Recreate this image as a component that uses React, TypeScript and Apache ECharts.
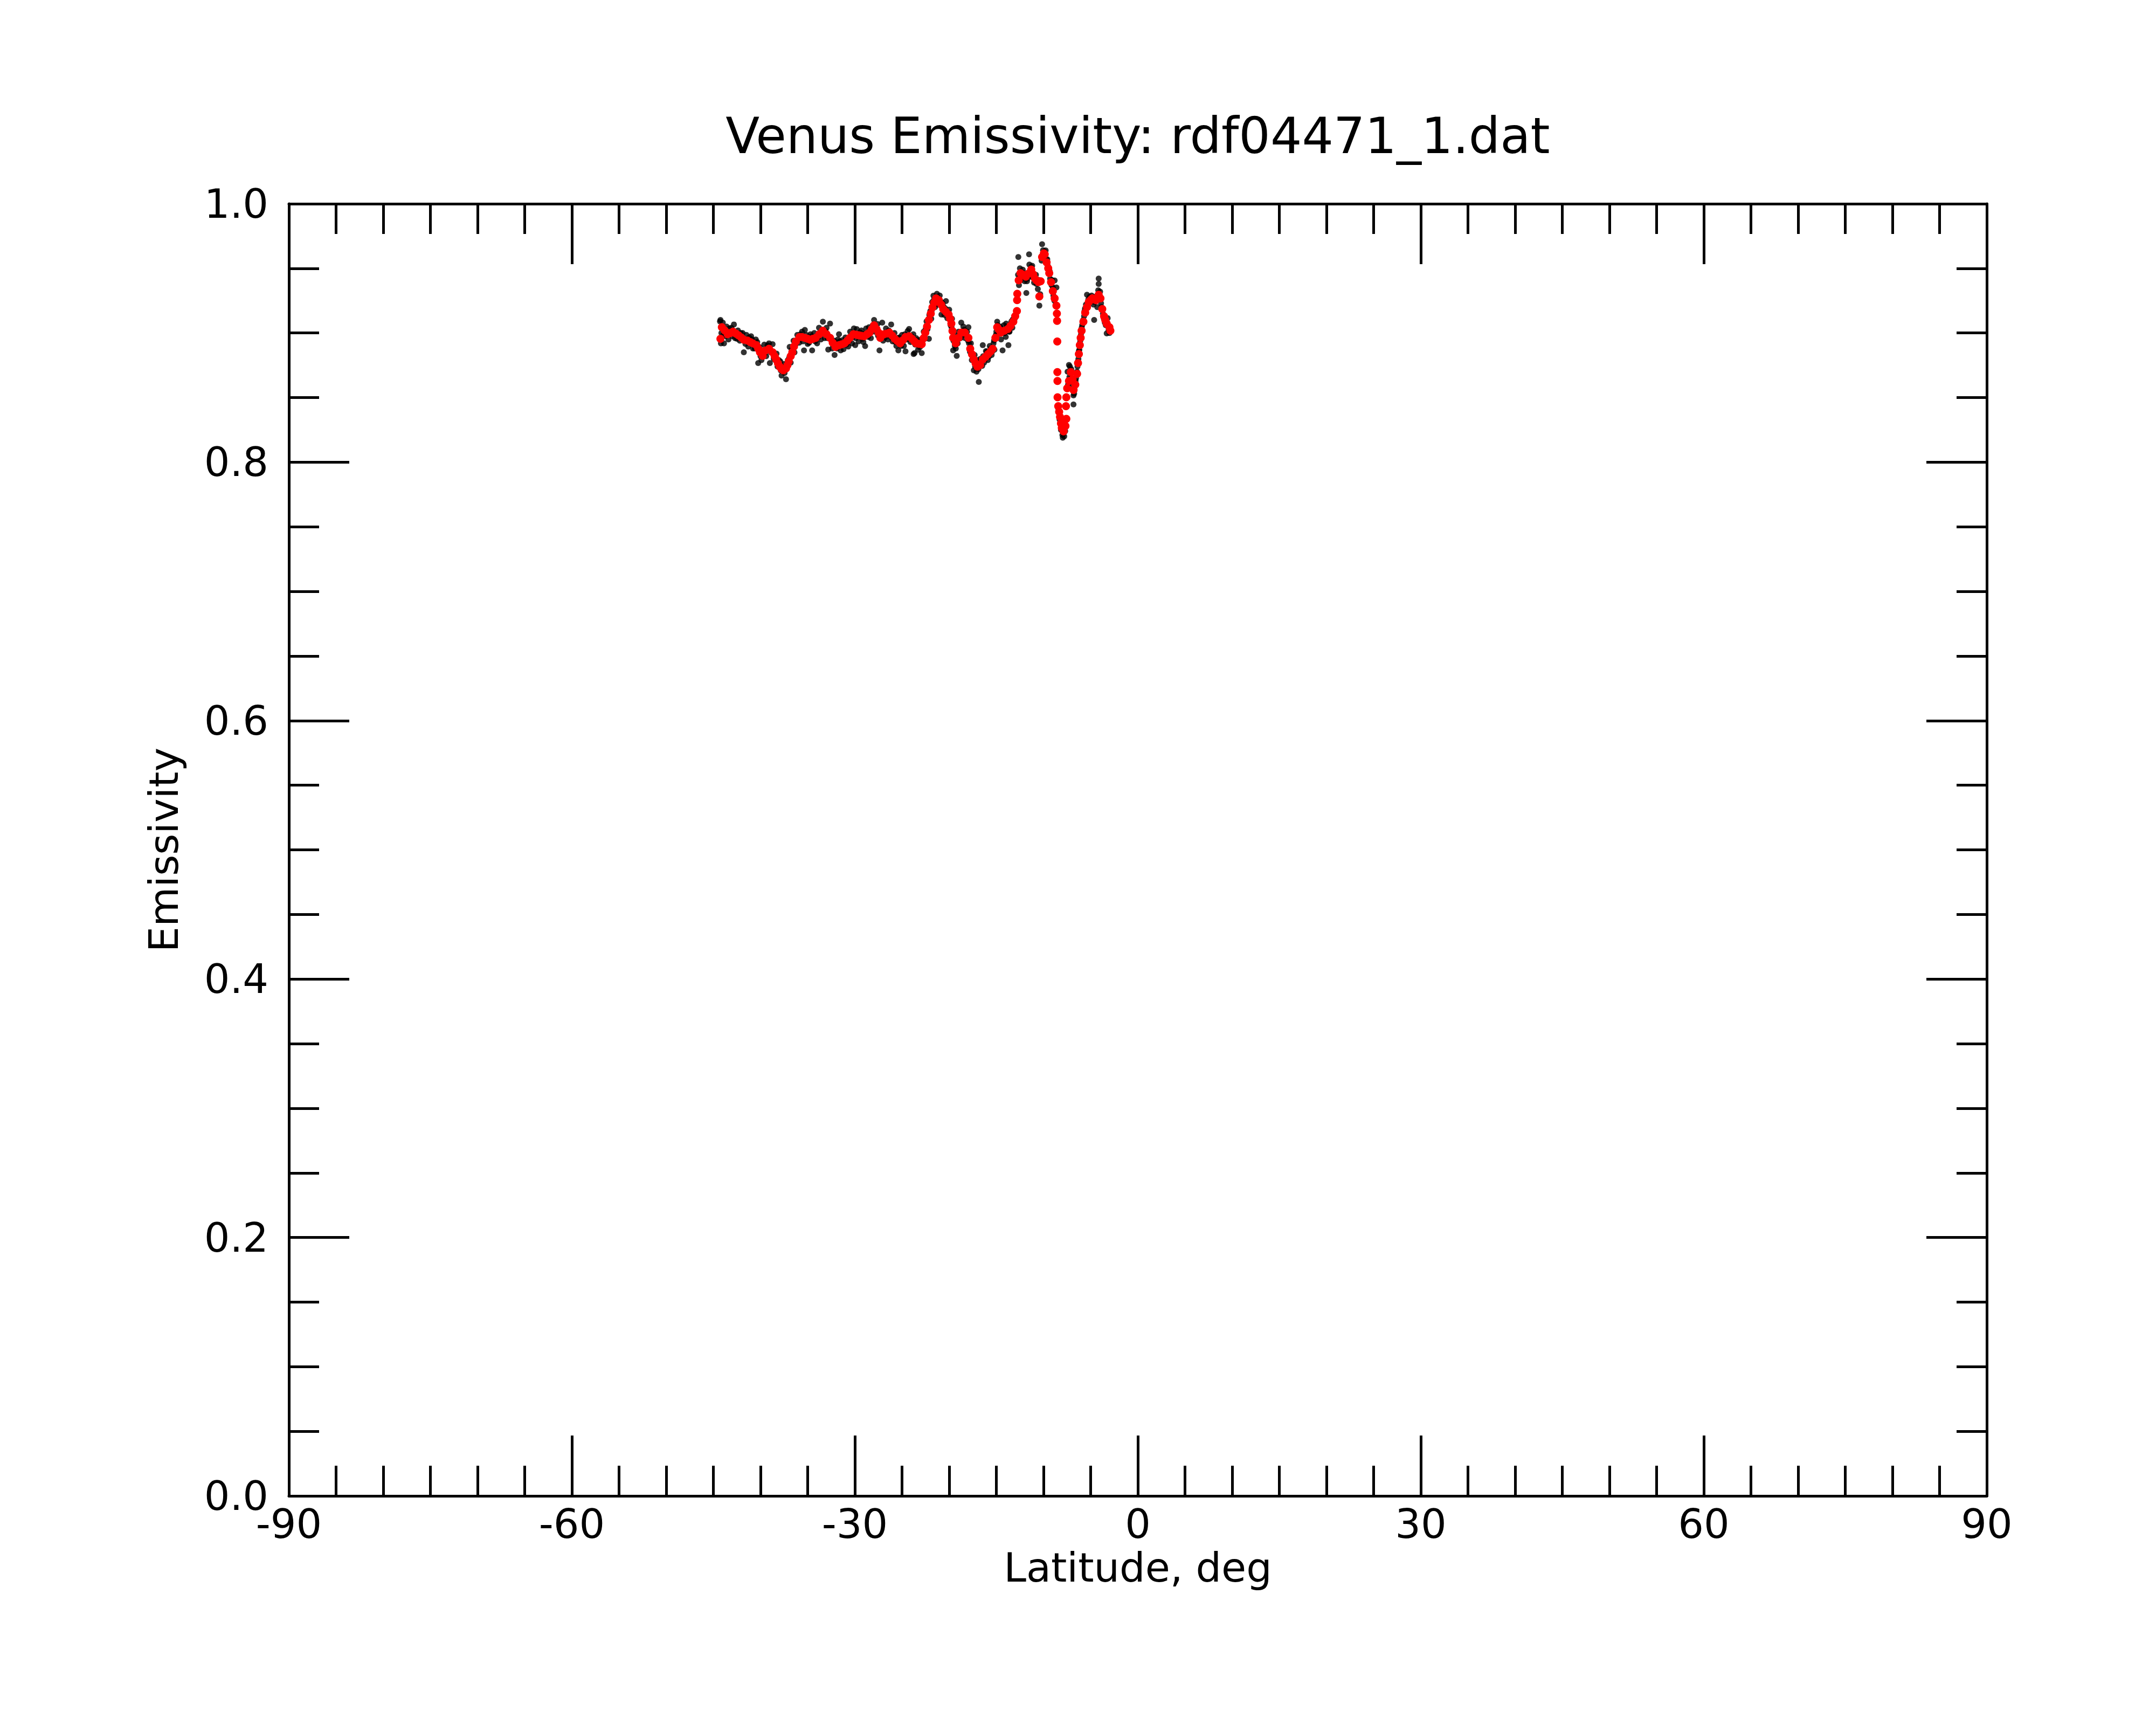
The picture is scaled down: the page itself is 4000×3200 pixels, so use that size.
import React, { useEffect, useRef } from "react";
import * as echarts from "echarts";

const TITLE = "Venus Emissivity: rdf04471_1.dat";
const X_NAME = "Latitude, deg";
const Y_NAME = "Emissivity";

// Smoothed emissivity (red)
const RED_LAT = [
  -44.25, -44.1, -43.8, -43.49, -43.2, -42.91, -42.6, -42.34, -42.05, -41.77,
  -41.39, -41.1, -40.82, -40.44, -40.25, -40.06, -39.77, -39.49, -39.1, -38.72,
  -38.5, -38.34, -38.15, -37.96, -37.78, -37.58, -37.3, -37.15, -37.01, -36.8,
  -36.63, -36.45, -36.25, -35.87, -35.6, -35.3, -35.0, -34.73, -34.45, -34.15,
  -33.77, -33.39, -33.01, -32.63, -32.35, -32.06, -31.68, -31.4, -31.1, -30.8,
  -30.53, -30.15, -29.85, -29.58, -29.3, -29.01, -28.7, -28.44, -28.2, -27.96,
  -27.7, -27.49, -27.3, -26.91, -26.6, -26.34, -26.05, -25.77, -25.5, -25.2,
  -24.9, -24.63, -24.25, -23.95, -23.67, -23.49, -23.2, -22.91, -22.7, -22.53,
  -22.35, -22.15, -21.95, -21.77, -21.58, -21.39, -21.1, -20.85, -20.63, -20.35,
  -20.06, -19.9, -19.77, -19.65, -19.58, -19.3, -19.01, -18.72, -18.34, -17.96,
  -17.77, -17.58, -17.39, -17.2, -17.01, -16.72, -16.44, -16.15, -15.87, -15.6,
  -15.39, -15.1, -14.91, -14.72, -14.53, -14.15, -13.77, -13.5, -13.2, -13.0,
  -12.82, -12.8, -12.78, -12.63, -12.44, -12.15, -11.87, -11.6, -11.3, -11.1,
  -10.91, -10.72, -10.53, -10.44, -10.3, -10.15, -9.96, -9.87, -9.67, -9.5,
  -9.39, -9.2, -9.01, -8.82, -8.63, -8.58, -8.56, -8.54, -8.53, -8.52,
  -8.51, -8.44, -8.34, -8.25, -8.15, -8.06, -7.87, -7.67, -7.58, -7.62,
  -7.58, -7.49, -7.3, -7.1, -6.91, -6.82, -6.63, -6.44, -6.34, -6.25,
  -6.15, -6.06, -5.96, -5.77, -5.58, -5.39, -5.2, -5.0, -4.82, -4.63,
  -4.44, -4.15, -3.96, -3.77, -3.58, -3.45, -3.3, -3.01, -2.91,
];
const RED_E = [
  0.8955, 0.9045, 0.902, 0.899, 0.9, 0.901, 0.8995, 0.8982, 0.8965, 0.8948,
  0.8941, 0.893, 0.892, 0.8906, 0.888, 0.8851, 0.8823, 0.8864, 0.8878, 0.8851,
  0.882, 0.8795, 0.8765, 0.8739, 0.8722, 0.8711, 0.8725, 0.875, 0.8781, 0.882,
  0.8851, 0.8895, 0.8934, 0.8969, 0.8968, 0.8962, 0.8955, 0.8948, 0.8955, 0.8962,
  0.899, 0.9018, 0.899, 0.8962, 0.8925, 0.8892, 0.8906, 0.8912, 0.892, 0.894,
  0.8962, 0.899, 0.8986, 0.8982, 0.8978, 0.8975, 0.899, 0.9003, 0.903, 0.9059,
  0.903, 0.9003, 0.8962, 0.899, 0.8996, 0.9003, 0.898, 0.8955, 0.8938, 0.892,
  0.8945, 0.8969, 0.8975, 0.8955, 0.8934, 0.892, 0.8916, 0.8913, 0.896, 0.9003,
  0.905, 0.9101, 0.915, 0.9198, 0.9235, 0.9268, 0.9254, 0.922, 0.9185, 0.9165,
  0.9143, 0.911, 0.9073, 0.9015, 0.8962, 0.892, 0.8962, 0.9003, 0.9003, 0.8962,
  0.8878, 0.8835, 0.8795, 0.8765, 0.8739, 0.8753, 0.8795, 0.8815, 0.8837, 0.8858,
  0.8878, 0.8962, 0.9045, 0.9025, 0.9003, 0.9018, 0.9031, 0.9055, 0.9087, 0.913,
  0.917, 0.9254, 0.9303, 0.9408, 0.9463, 0.945, 0.9436, 0.946, 0.9491, 0.9455,
  0.9421, 0.9405, 0.9394, 0.9282, 0.94, 0.9588, 0.9616, 0.9609, 0.9546, 0.95,
  0.9463, 0.9393, 0.9324, 0.9268, 0.9212, 0.915, 0.9094, 0.8934, 0.8697, 0.8628,
  0.8502, 0.8433, 0.839, 0.835, 0.83, 0.8266, 0.8238, 0.828, 0.8335, 0.8433,
  0.8502, 0.8572, 0.8628, 0.8697, 0.8642, 0.8559, 0.86, 0.8684, 0.8767, 0.8837,
  0.8906, 0.8962, 0.9018, 0.9087, 0.9157, 0.92, 0.924, 0.9255, 0.9268, 0.926,
  0.9254, 0.9296, 0.9268, 0.9185, 0.9129, 0.91, 0.9073, 0.9045, 0.9018,
];

// Raw emissivity samples (black), south part
const BLACK_A: [number, number][] = [
  [-44.3, 0.909], [-44.25, 0.9101], [-44.2, 0.892], [-44.0, 0.908], [-43.87, 0.892],
  [-43.6, 0.905], [-43.4, 0.895], [-43.1, 0.904], [-42.82, 0.9066], [-42.7, 0.896],
  [-42.4, 0.902], [-42.2, 0.894], [-41.9, 0.9], [-41.77, 0.8851], [-41.5, 0.8985],
  [-41.3, 0.8895], [-41.0, 0.8975], [-40.8, 0.888], [-40.5, 0.895], [-40.25, 0.8767],
  [-40.1, 0.889], [-39.9, 0.879], [-39.6, 0.891], [-39.4, 0.882], [-39.1, 0.892],
  [-39.01, 0.8767], [-38.72, 0.8913], [-38.6, 0.88], [-38.3, 0.884], [-38.2, 0.874],
  [-37.9, 0.878], [-37.77, 0.867], [-37.5, 0.876], [-37.3, 0.8642], [-37.1, 0.879],
  [-36.91, 0.8892], [-36.8, 0.877], [-36.5, 0.894], [-36.4, 0.885], [-36.1, 0.8985],
  [-35.9, 0.8925], [-35.6, 0.901], [-35.39, 0.8865], [-35.3, 0.9024], [-35.0, 0.8915],
  [-34.7, 0.899], [-34.53, 0.8865], [-34.3, 0.9], [-34.0, 0.892], [-33.8, 0.904],
  [-33.6, 0.895], [-33.39, 0.9087], [-33.2, 0.896], [-33.0, 0.904], [-32.82, 0.8872],
  [-32.63, 0.9073], [-32.4, 0.888], [-32.2, 0.894], [-32.15, 0.883], [-31.8, 0.895],
  [-31.68, 0.899], [-31.5, 0.8865], [-31.2, 0.8875], [-31.0, 0.8965], [-30.7, 0.8895],
  [-30.5, 0.901], [-30.3, 0.892], [-29.96, 0.8906], [-30.1, 0.9035], [-29.8, 0.903],
  [-29.6, 0.8935], [-29.3, 0.902], [-29.1, 0.893], [-28.91, 0.8899], [-28.8, 0.9035],
  [-28.5, 0.9045], [-28.3, 0.896], [-27.96, 0.9101], [-27.9, 0.901], [-27.6, 0.907],
  [-27.39, 0.8865], [-27.1, 0.908], [-27.0, 0.894], [-26.7, 0.9035], [-26.5, 0.895],
  [-26.15, 0.9066], [-26.0, 0.8935], [-25.8, 0.9], [-25.6, 0.89], [-25.39, 0.8865],
  [-25.3, 0.8965], [-25.0, 0.8985], [-24.8, 0.89], [-24.63, 0.8858], [-24.4, 0.9015],
  [-24.25, 0.9031], [-24.1, 0.893], [-23.77, 0.8837], [-23.8, 0.899], [-23.67, 0.8844],
  [-23.5, 0.896], [-23.3, 0.887], [-23.0, 0.895], [-22.91, 0.8844],
];

// Raw emissivity samples (black), central part
const BLACK_B: [number, number][] = [
  [-22.7, 0.901], [-22.6, 0.8955], [-22.4, 0.909], [-22.15, 0.8955], [-22.1, 0.914],
  [-21.9, 0.911], [-21.8, 0.924], [-21.67, 0.9289], [-21.5, 0.92], [-21.3, 0.9303],
  [-21.2, 0.922], [-21.0, 0.929], [-20.82, 0.9143], [-20.7, 0.923], [-20.5, 0.914],
  [-20.34, 0.9247], [-20.2, 0.9115], [-20.0, 0.918], [-19.85, 0.906], [-19.7, 0.911],
  [-19.58, 0.8865], [-19.5, 0.899], [-19.3, 0.888], [-19.2, 0.8823], [-19.1, 0.892],
  [-19.0, 0.901], [-18.8, 0.896], [-18.72, 0.908], [-18.5, 0.905], [-18.3, 0.896],
  [-18.1, 0.901], [-17.96, 0.9045], [-17.9, 0.892], [-17.7, 0.892], [-17.6, 0.879],
  [-17.39, 0.8711], [-17.3, 0.883], [-17.1, 0.87], [-17.0, 0.879], [-16.86, 0.8621],
  [-16.7, 0.88], [-16.5, 0.8745], [-16.44, 0.8906], [-16.3, 0.877], [-16.1, 0.886],
  [-15.9, 0.879], [-15.7, 0.89], [-15.5, 0.883], [-15.3, 0.892], [-15.2, 0.887],
  [-15.0, 0.901], [-14.91, 0.9087], [-14.8, 0.899], [-14.6, 0.905], [-14.5, 0.895],
  [-14.34, 0.8865], [-14.2, 0.906], [-14.0, 0.897], [-13.96, 0.9073], [-13.72, 0.8906],
  [-13.6, 0.901], [-13.4, 0.909], [-13.3, 0.904], [-13.1, 0.913],
];

// Raw emissivity samples (black), north part
const BLACK_C: [number, number][] = [
  [-12.67, 0.9588], [-12.7, 0.945], [-12.6, 0.937], [-12.5, 0.95], [-12.4, 0.941],
  [-12.2, 0.949], [-12.0, 0.94], [-11.82, 0.931], [-11.7, 0.942], [-11.53, 0.9609],
  [-11.5, 0.953], [-11.4, 0.944], [-11.2, 0.952], [-11.0, 0.939], [-10.8, 0.945],
  [-10.6, 0.934], [-10.44, 0.9212], [-10.35, 0.93], [-10.15, 0.9687], [-10.05, 0.964],
  [-9.77, 0.9639], [-9.6, 0.957], [-9.45, 0.95], [-9.3, 0.942], [-9.1, 0.941],
  [-8.95, 0.929], [-8.82, 0.9407], [-8.7, 0.922], [-8.63, 0.9352], [-8.4, 0.84],
  [-8.3, 0.833], [-8.15, 0.825], [-8.0, 0.821], [-7.96, 0.8189], [-7.8, 0.82],
  [-7.7, 0.824], [-7.45, 0.87], [-7.3, 0.8753], [-7.2, 0.874], [-7.1, 0.865],
  [-6.95, 0.86], [-6.82, 0.8517], [-6.82, 0.8447], [-6.7, 0.856], [-6.55, 0.865],
  [-6.4, 0.874], [-6.3, 0.88], [-6.2, 0.887], [-6.1, 0.894], [-6.0, 0.9],
  [-5.9, 0.906], [-5.7, 0.913], [-5.6, 0.919], [-5.39, 0.9296], [-5.3, 0.923],
  [-5.1, 0.928], [-4.9, 0.929], [-4.63, 0.9101], [-4.7, 0.922], [-4.5, 0.928],
  [-4.3, 0.92], [-4.15, 0.9421], [-4.15, 0.9379], [-4.0, 0.932], [-3.9, 0.923],
  [-3.7, 0.915], [-3.5, 0.908], [-3.3, 0.8997], [-3.2, 0.9115], [-3.1, 0.902],
];

// Raw emissivity samples (black), in-between samples
const BLACK_D: [number, number][] = [
  [-44.15, 0.9], [-43.95, 0.8985], [-43.7, 0.8975], [-43.3, 0.9035], [-43.0, 0.8975],
  [-42.5, 0.8955], [-42.1, 0.9], [-41.6, 0.8915], [-41.2, 0.8965], [-40.9, 0.895],
  [-40.6, 0.888], [-40.35, 0.893], [-40.0, 0.882], [-39.8, 0.8855], [-39.55, 0.884],
  [-39.25, 0.8905], [-38.9, 0.885], [-38.45, 0.879], [-38.05, 0.879], [-37.85, 0.871],
  [-37.65, 0.874], [-37.45, 0.869], [-37.2, 0.876], [-36.95, 0.881], [-36.7, 0.887],
  [-36.3, 0.891], [-36.0, 0.8945], [-35.75, 0.899], [-35.5, 0.8935], [-35.15, 0.8985],
  [-34.85, 0.8925], [-34.6, 0.8975], [-34.2, 0.8935], [-33.9, 0.8965], [-33.5, 0.9],
  [-33.1, 0.9015], [-32.9, 0.896], [-32.5, 0.8945], [-32.3, 0.8905], [-31.9, 0.888],
  [-31.6, 0.8935], [-31.3, 0.8945], [-30.9, 0.891], [-30.6, 0.894], [-30.2, 0.897],
  [-29.9, 0.896], [-29.45, 0.9005], [-29.2, 0.8955], [-28.95, 0.8995], [-28.6, 0.897],
  [-28.35, 0.9025], [-28.1, 0.906], [-27.8, 0.905], [-27.55, 0.898], [-27.2, 0.8985],
  [-26.8, 0.8965], [-26.4, 0.902], [-26.2, 0.897], [-25.9, 0.8975], [-25.7, 0.893],
  [-25.45, 0.896], [-25.1, 0.89], [-24.95, 0.8925], [-24.7, 0.899], [-24.5, 0.895],
  [-24.2, 0.8955], [-24.0, 0.8975], [-23.6, 0.891], [-23.4, 0.8945], [-23.1, 0.889],
  [-22.85, 0.8935], [-22.5, 0.903], [-22.3, 0.903], [-22.0, 0.917], [-21.85, 0.9175],
  [-21.6, 0.926], [-21.45, 0.9245], [-21.25, 0.928], [-21.05, 0.923], [-20.9, 0.9245],
  [-20.6, 0.9205], [-20.4, 0.919], [-20.1, 0.916], [-19.95, 0.913], [-19.75, 0.9045],
  [-19.55, 0.894], [-19.4, 0.89], [-18.9, 0.8985], [-18.6, 0.8985], [-18.4, 0.9025],
  [-18.2, 0.8985], [-18.0, 0.894], [-17.8, 0.8855], [-17.5, 0.8815], [-17.25, 0.874],
  [-17.05, 0.876], [-16.9, 0.872], [-16.6, 0.8775], [-16.4, 0.882], [-16.2, 0.8795],
  [-16.0, 0.8855], [-15.8, 0.8815], [-15.6, 0.888], [-15.45, 0.8855], [-15.25, 0.894],
  [-15.05, 0.8985], [-14.85, 0.906], [-14.65, 0.9005], [-14.4, 0.903], [-14.1, 0.9],
  [-13.85, 0.905], [-13.65, 0.901], [-13.45, 0.907], [-13.25, 0.9105], [-13.05, 0.911],
  [-12.55, 0.943], [-12.3, 0.947], [-12.1, 0.943], [-11.9, 0.946], [-11.75, 0.94],
  [-11.45, 0.948], [-11.3, 0.951], [-11.15, 0.943], [-10.95, 0.944], [-10.75, 0.938],
  [-10.5, 0.941], [-10.2, 0.956], [-9.9, 0.963], [-9.7, 0.957], [-9.55, 0.952],
  [-9.35, 0.948], [-9.15, 0.937], [-9.0, 0.935], [-8.85, 0.925], [-8.45, 0.842],
  [-8.2, 0.831], [-8.1, 0.828], [-7.9, 0.822], [-7.75, 0.826], [-7.4, 0.86],
  [-7.25, 0.866], [-7.05, 0.872], [-6.88, 0.862], [-6.75, 0.853], [-6.6, 0.863],
  [-6.45, 0.87], [-6.35, 0.878], [-6.25, 0.886], [-6.15, 0.892], [-6.05, 0.898],
  [-5.95, 0.904], [-5.8, 0.91], [-5.65, 0.917], [-5.5, 0.922], [-5.25, 0.926],
  [-5.05, 0.924], [-4.85, 0.925], [-4.6, 0.924], [-4.4, 0.927], [-4.2, 0.933],
  [-4.05, 0.928], [-3.85, 0.92], [-3.6, 0.911], [-3.4, 0.906], [-3.0, 0.9],
];

const X_MIN = -90;
const X_MAX = 90;
const X_STEP = 30;
const Y_MIN = 0;
const Y_MAX = 1;
const Y_STEP = 0.2;

const FONT = "DejaVu Sans";

function makeX(position: "bottom" | "top", showLabel: boolean, withName: boolean) {
  return {
    type: "value",
    position,
    min: X_MIN,
    max: X_MAX,
    interval: X_STEP,
    name: withName ? X_NAME : "",
    nameLocation: "middle",
    nameGap: 95,
    nameTextStyle: { fontSize: 75, color: "#000", fontFamily: FONT },
    axisLine: { show: true, onZero: false, lineStyle: { color: "#000", width: 5 } },
    axisTick: { show: true, inside: true, length: 112, lineStyle: { color: "#000", width: 5 } },
    minorTick: { show: true, splitNumber: 6, length: 56, lineStyle: { color: "#000", width: 5 } },
    splitLine: { show: false },
    minorSplitLine: { show: false },
    axisLabel: {
      show: showLabel,
      fontSize: 75,
      color: "#000",
      fontFamily: FONT,
      margin: 14,
      showMinLabel: true,
      showMaxLabel: true,
    },
  };
}

function makeY(position: "left" | "right", showLabel: boolean, withName: boolean) {
  return {
    type: "value",
    position,
    min: Y_MIN,
    max: Y_MAX,
    interval: Y_STEP,
    name: withName ? Y_NAME : "",
    nameLocation: "middle",
    nameGap: 195,
    nameRotate: 90,
    nameTextStyle: { fontSize: 75, color: "#000", fontFamily: FONT },
    axisLine: { show: true, onZero: false, lineStyle: { color: "#000", width: 5 } },
    axisTick: { show: true, inside: true, length: 112, lineStyle: { color: "#000", width: 5 } },
    minorTick: { show: true, splitNumber: 4, length: 56, lineStyle: { color: "#000", width: 5 } },
    splitLine: { show: false },
    minorSplitLine: { show: false },
    axisLabel: {
      show: showLabel,
      fontSize: 75,
      color: "#000",
      fontFamily: FONT,
      margin: 38,
      formatter: (v: number) => v.toFixed(1),
      showMinLabel: true,
      showMaxLabel: true,
    },
  };
}

export default function App() {
  const ref = useRef<HTMLDivElement>(null);

  useEffect(() => {
    if (!ref.current) return;
    const chart = echarts.init(ref.current, undefined, { renderer: "svg" });
    const redData = RED_LAT.map((lat, i) => [lat, RED_E[i]]);
    const blackData = [...BLACK_A, ...BLACK_B, ...BLACK_C, ...BLACK_D];
    chart.setOption({
      animation: false,
      backgroundColor: "#fff",
      graphic: [
        {
          type: "text",
          x: 2111,
          y: 252,
          silent: true,
          style: {
            text: TITLE,
            fontSize: 92,
            fontFamily: FONT,
            fill: "#000",
            align: "center",
            verticalAlign: "middle",
          },
        },
      ],
      grid: { left: 536, right: 314, top: 378, bottom: 425, containLabel: false },
      xAxis: [makeX("bottom", true, true), makeX("top", false, false)],
      yAxis: [makeY("left", true, true), makeY("right", false, false)],
      series: [
        {
          type: "scatter",
          xAxisIndex: 0,
          yAxisIndex: 0,
          data: blackData,
          symbol: "circle",
          symbolSize: 11,
          itemStyle: { color: "#000" },
          silent: true,
        },
        {
          type: "scatter",
          xAxisIndex: 0,
          yAxisIndex: 0,
          data: redData,
          symbol: "circle",
          symbolSize: 15,
          itemStyle: { color: "#ff0000", opacity: 1 },
          silent: true,
        },
      ],
    });
    return () => chart.dispose();
  }, []);

  return (
    <div
      ref={ref}
      style={{ position: "absolute", left: 0, top: 0, width: 4000, height: 3200, background: "#fff" }}
    />
  );
}
